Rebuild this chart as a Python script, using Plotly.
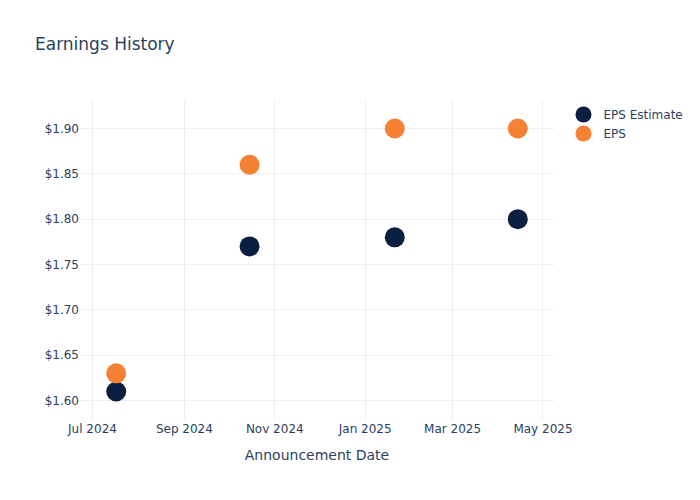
import plotly.graph_objects as go

dates = ['2024-07-17', '2024-10-15', '2025-01-21', '2025-04-14']
eps_estimate = [1.61, 1.77, 1.78, 1.80]
eps_actual = [1.63, 1.86, 1.90, 1.90]

fig = go.Figure()

fig.add_trace(go.Scatter(
    x=dates, y=eps_estimate,
    mode='markers',
    name='EPS Estimate',
    marker=dict(size=20, color='#0b1f41')
))
fig.add_trace(go.Scatter(
    x=dates, y=eps_actual,
    mode='markers',
    name='EPS',
    marker=dict(size=20, color='#f58135')
))

# page has an 8px body margin, so shrink the figure a bit to line up with the window
fig.update_layout(
    template='plotly_white',
    font=dict(family='DejaVu Sans'),
    title=dict(text='Earnings History', x=27/692, y=1 - 36/492, yanchor='middle'),
    xaxis_title='Announcement Date',
    yaxis=dict(tickprefix='$', tickformat='.2f'),
    margin=dict(l=72, t=92, b=80),
    width=692,
    height=492,
)

fig.write_html("out.html")
